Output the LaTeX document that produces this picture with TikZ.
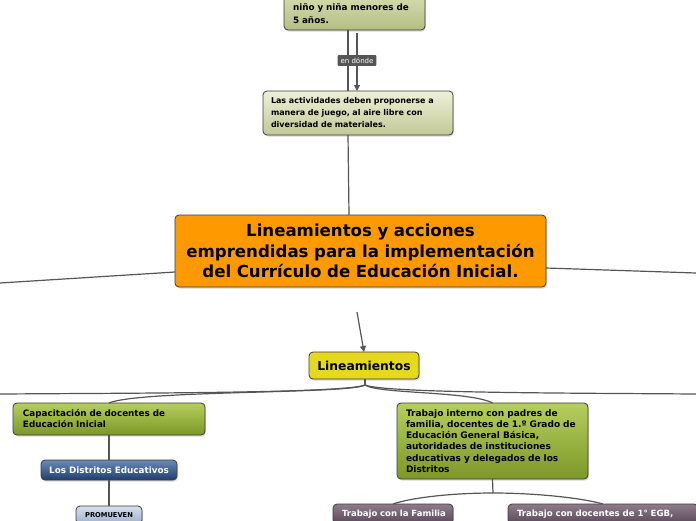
\documentclass[tikz,border=0pt]{standalone}
\usepackage{fontspec}
\setmainfont{DejaVu Sans}
\usetikzlibrary{shadows,arrows.meta}
\definecolor{linecol}{HTML}{555555}
\definecolor{bordcol}{HTML}{3C3C3C}
\definecolor{khAtop}{HTML}{E2E8C0}
\definecolor{khAbot}{HTML}{B4BE82}
\definecolor{khBtop}{HTML}{EEF1D8}
\definecolor{khBbot}{HTML}{C2C996}
\definecolor{olvtop}{HTML}{B6CE5E}
\definecolor{olvbot}{HTML}{7C9828}
\definecolor{blutop}{HTML}{6A8AB8}
\definecolor{blubot}{HTML}{1E3E6E}
\definecolor{lbltop}{HTML}{D8E0EE}
\definecolor{lblbot}{HTML}{9EAECA}
\definecolor{purtop}{HTML}{8E7C8C}
\definecolor{purbot}{HTML}{5A4858}
\definecolor{orgcol}{HTML}{FF9900}
\definecolor{yelcol}{HTML}{E6D81E}
\definecolor{lblcol}{HTML}{555555}
\begin{document}
\begin{tikzpicture}[x=1pt,y=-1pt,
  conn/.style={draw=linecol,line width=1.2pt},
  box/.style={rounded corners=4pt,draw=bordcol,line width=0.8pt,
    drop shadow={shadow xshift=1pt,shadow yshift=-1.5pt,opacity=0.3},
    anchor=north west,outer sep=0pt},
  lbox/.style={box,align=left},
  khA/.style={top color=khAtop,bottom color=khAbot},
  khB/.style={top color=khBtop,bottom color=khBbot},
  olv/.style={top color=olvtop,bottom color=olvbot},
  blu/.style={top color=blutop,bottom color=blubot,text=white},
  lbl/.style={top color=lbltop,bottom color=lblbot},
  pur/.style={top color=purtop,bottom color=purbot,text=white},
  arr/.style={conn,-{Triangle[length=6pt,width=6pt]}},
  tag/.style={fill=lblcol,text=white,rounded corners=1pt,inner xsep=3pt,inner ysep=2.5pt,
    font=\fontsize{7}{8}\selectfont}
]
\useasboundingbox (0,0) rectangle (696,520);
\clip (0,0) rectangle (696,520);

% nodes
\node[lbox,khA,anchor=south west,minimum width=141pt,inner xsep=9pt,inner ysep=6pt,text width=123pt,
  font=\fontsize{8.8}{13.5}\selectfont\bfseries] (top) at (284,30)
  {\strut\\niño y niña menores de\\5 años.};

\node[lbox,khB,minimum width=190pt,minimum height=44pt,inner xsep=8pt,text width=174pt,
  font=\fontsize{8}{12}\selectfont\bfseries] (act) at (263,91)
  {Las actividades deben proponerse a\\manera de juego, al aire libre con\\diversidad de materiales.};

\node[box,fill=orgcol,minimum width=371pt,minimum height=72pt,align=center,text width=360pt,
  font=\fontsize{16.6}{20.5}\selectfont\bfseries] (main) at (175,215)
  {Lineamientos y acciones\\emprendidas para la implementación\\del Currículo de Educación Inicial.};

\node[box,fill=yelcol,minimum width=110pt,minimum height=27pt,
  font=\fontsize{12.3}{14}\selectfont\bfseries] (lin) at (309,352) {Lineamientos};

\node[lbox,olv,minimum width=192pt,minimum height=32pt,inner xsep=10pt,text width=172pt,
  font=\fontsize{8.8}{11}\selectfont\bfseries] (cap) at (13,403)
  {Capacitación de docentes de\\Educación Inicial};

\node[box,blu,minimum width=136pt,minimum height=20pt,
  font=\fontsize{8.8}{10}\selectfont\bfseries] (dist) at (41,460) {Los Distritos Educativos};

\node[box,lbl,minimum width=66pt,minimum height=18pt,
  font=\fontsize{6.7}{8}\selectfont\bfseries] (prom) at (76,506) {PROMUEVEN};

\node[lbox,olv,minimum width=191pt,minimum height=76pt,inner xsep=9pt,text width=173pt,
  font=\fontsize{9}{11.2}\selectfont\bfseries] (trab) at (397,403)
  {Trabajo interno con padres de\\familia, docentes de 1.º Grado de\\Educación General Básica,\\autoridades de instituciones\\educativas y delegados de los\\Distritos};

\node[lbox,pur,minimum width=120pt,minimum height=20pt,inner xsep=9pt,text width=102pt,
  font=\fontsize{8.5}{10}\selectfont\bfseries] (fam) at (333,504) {\mbox{Trabajo con la Familia}};

\node[lbox,pur,minimum width=190pt,minimum height=20pt,inner xsep=9pt,text width=172pt,
  font=\fontsize{8.6}{10}\selectfont\bfseries] (doc) at (508,504) {\mbox{Trabajo con docentes de 1° EGB,}};

% helper coordinates
\coordinate (xa) at (348,0);
\coordinate (xb) at (357,0);
\coordinate (xc) at (349,0);
\coordinate (ml) at (175,272);
\coordinate (farML) at (0,283);
\coordinate (mr) at (546,268);
\coordinate (farMR) at (696,273);
\coordinate (astart) at (357,312);
\coordinate (lj) at (365,385);
\coordinate (farL) at (0,394);
\coordinate (farR) at (696,394);
\coordinate (tj) at (493,493);

% connectors
\draw[conn] (top.south -| xa) -- (act.north -| xa);
\draw[arr] (top.south -| xb) ++(0,3) -- (act.north -| xb);
\node[tag] (endonde) at (357,60.5) {en dónde};
\draw[conn] (act.south -| xa) -- (main.north -| xc);
\draw[conn] (ml) -- (farML);
\draw[conn] (mr) -- (farMR);
\draw[arr] (astart) -- (lin.north);
\draw[conn] (lin.south -| lj) -- (lj);
\draw[conn] (lj) .. controls (345,393) and (150,393) .. (farL);
\draw[conn] (lj) .. controls (352,394) and (140,390) .. (cap.north);
\draw[conn] (lj) .. controls (385,393) and (560,393) .. (farR);
\draw[conn] (lj) .. controls (378,394) and (470,391) .. (trab.north);
\draw[conn] (trab.south) -- (tj);
\draw[conn] (tj) .. controls (450,493) and (410,498) .. (fam.north);
\draw[conn] (tj) .. controls (536,493) and (582,498) .. (doc.north);
\draw[conn] (cap.south) -- (dist.north);
\draw[conn] (dist.south) -- (prom.north);
\end{tikzpicture}
\end{document}
